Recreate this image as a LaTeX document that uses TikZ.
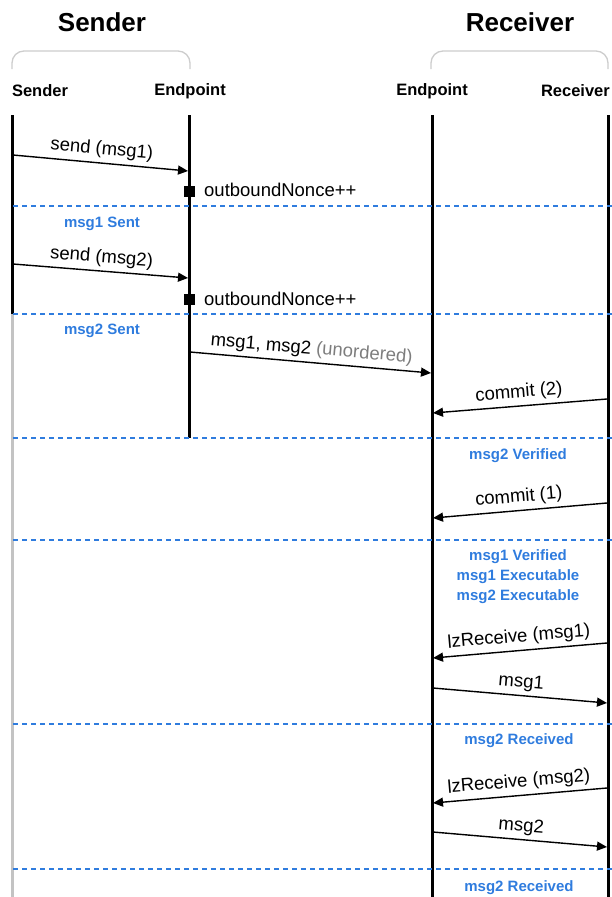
\documentclass[tikz,border=0pt]{standalone}
\usepackage{fontspec}
\setmainfont{Liberation Sans}
\usetikzlibrary{arrows.meta}
\definecolor{lzblue}{RGB}{47,124,222}
\definecolor{bracketgray}{RGB}{205,205,205}
\definecolor{lifegray}{RGB}{195,195,195}
\definecolor{labelgray}{RGB}{125,125,125}
\tikzset{
  lifeline/.style={line width=3pt},
  graylife/.style={line width=3pt, color=lifegray},
  msgarrow/.style={line width=1.4pt, -{Triangle[length=10pt,width=9pt]}},
  msglabel/.style={midway, sloped, above=3pt, inner sep=1pt, font=\fontsize{18.5}{21}\selectfont},
  statelabel/.style={text=lzblue, font=\fontsize{15}{20}\selectfont\bfseries, inner sep=0pt, align=center},
  divider/.style={lzblue, line width=1.1pt, dash pattern=on 5pt off 4pt},
  header/.style={font=\fontsize{26}{30}\selectfont\bfseries, inner sep=0pt},
  colhead/.style={font=\fontsize{16.5}{20}\selectfont\bfseries, inner sep=0pt},
  bracket/.style={bracketgray, line width=1.3pt},
  marker/.style={fill=black, minimum size=11pt, inner sep=0pt},
  note/.style={font=\fontsize{18.5}{21}\selectfont, inner sep=0pt, anchor=west},
}
\begin{document}
\begin{tikzpicture}
\useasboundingbox (0,0) rectangle (612pt,-897pt);
\begin{scope}[x=1pt,y=1pt]
% headers
\node[header] (hS) at (102,-22) {Sender};
\node[header] (hR) at (520,-22) {Receiver};
\draw[bracket] (12,-69) -- (12,-63) arc[start angle=180,end angle=90,radius=12] -- (178,-51) arc[start angle=90,end angle=0,radius=12] -- (190,-69);
\draw[bracket] (431,-69) -- (431,-63) arc[start angle=180,end angle=90,radius=12] -- (596,-51) arc[start angle=90,end angle=0,radius=12] -- (608,-69);
\node[colhead] (cS) at (40,-91) {Sender};
\node[colhead] (cSE) at (190,-91) {Endpoint};
\node[colhead] (cRE) at (432,-91) {Endpoint};
\node[colhead, anchor=east] (cR) at (610,-91) {Receiver};

% lifelines
\coordinate (S0) at (12,-115);
\coordinate (S1) at (12,-314);
\coordinate (S2) at (12,-897);
\coordinate (SE0) at (189,-115);
\coordinate (SE1) at (189,-438);
\coordinate (RE0) at (432,-115);
\coordinate (RE1) at (432,-897);
\coordinate (R0) at (608,-115);
\coordinate (R1) at (608,-897);
\draw[graylife] (S1) -- (S2);
\draw[lifeline] (S0) -- (S1);
\draw[lifeline] (SE0) -- (SE1);
\draw[lifeline] (RE0) -- (RE1);
\draw[lifeline] (R0) -- (R1);

% dividers
\foreach \y/\n in {206/d1,314/d2,438/d3,540/d4,724/d5,869/d6}{
  \coordinate (\n a) at (13,-\y);
  \coordinate (\n b) at (612,-\y);
  \draw[divider] (\n a) -- (\n b);
}

% send msg1
\coordinate (a1s) at (13,-155);
\coordinate (a1e) at (188,-171);
\draw[msgarrow] (a1s) -- node[msglabel] {send (msg1)} (a1e);
\node[marker] (m1) at (189,-191) {};
\node[note] (n1) at (204,-190) {outboundNonce++};
\node[statelabel] (s1) at (102,-224) {msg1 Sent};

% send msg2
\coordinate (a2s) at (13,-264);
\coordinate (a2e) at (188,-278);
\draw[msgarrow] (a2s) -- node[msglabel] {send (msg2)} (a2e);
\node[marker] (m2) at (189,-299) {};
\node[note] (n2) at (204,-299) {outboundNonce++};
\node[statelabel] (s2) at (102,-331) {msg2 Sent};

% msg1, msg2 unordered
\coordinate (a3s) at (190,-352);
\coordinate (a3e) at (431,-373);
\draw[msgarrow] (a3s) -- node[msglabel] {msg1, msg2 \textcolor{labelgray}{(unordered)}} (a3e);

% commit 2
\coordinate (a4s) at (607,-399);
\coordinate (a4e) at (433,-413);
\draw[msgarrow] (a4s) -- node[msglabel] {commit (2)} (a4e);
\node[statelabel] (s3) at (518,-456) {msg2 Verified};

% commit 1
\coordinate (a5s) at (607,-503);
\coordinate (a5e) at (433,-518);
\draw[msgarrow] (a5s) -- node[msglabel] {commit (1)} (a5e);
\node[statelabel] (s4) at (518,-577) {msg1 Verified\\msg1 Executable\\msg2 Executable};

% lzReceive msg1
\coordinate (a6s) at (607,-643);
\coordinate (a6e) at (433,-658);
\draw[msgarrow] (a6s) -- node[msglabel] {lzReceive (msg1)} (a6e);
\coordinate (a7s) at (433,-688);
\coordinate (a7e) at (607,-703);
\draw[msgarrow] (a7s) -- node[msglabel] {msg1} (a7e);
\node[statelabel] (s5) at (519,-741) {msg2 Received};

% lzReceive msg2
\coordinate (a8s) at (607,-788);
\coordinate (a8e) at (433,-803);
\draw[msgarrow] (a8s) -- node[msglabel] {lzReceive (msg2)} (a8e);
\coordinate (a9s) at (433,-832);
\coordinate (a9e) at (607,-847);
\draw[msgarrow] (a9s) -- node[msglabel] {msg2} (a9e);
\node[statelabel] (s6) at (519,-888) {msg2 Received};
\end{scope}
\end{tikzpicture}
\end{document}
